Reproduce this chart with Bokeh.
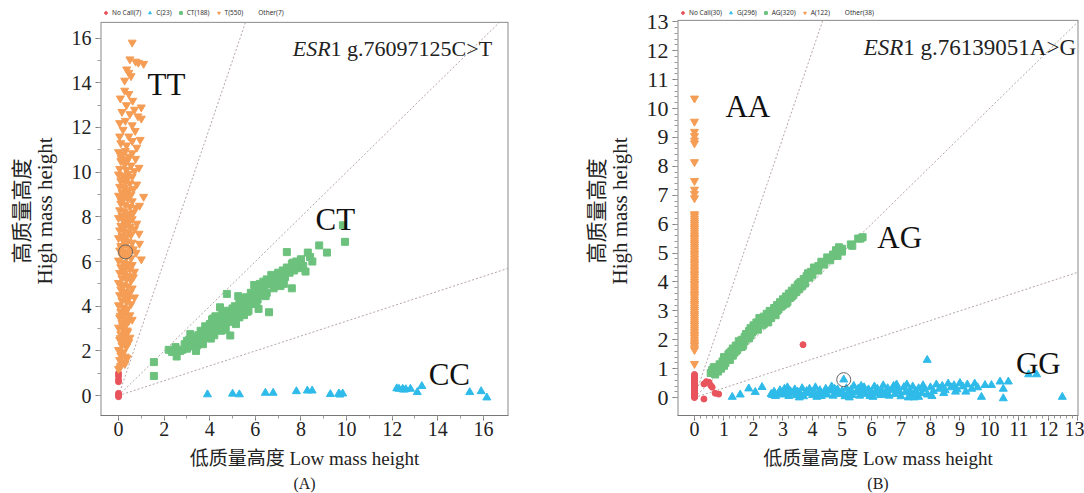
import math
from bokeh.plotting import figure
from bokeh.layouts import row
from bokeh.models import Label, Legend, LegendItem, FixedTicker, Range1d, Title
from bokeh.embed import file_html
from bokeh.resources import INLINE

SERIF = "Liberation Serif, Noto Sans CJK SC"

# ---------------- Panel A : ESR1 g.76097125C>T ----------------
A_legend = ["No Call(7)", "C(23)", "CT(188)", "T(550)", "Other(7)"]
A_xticks = [0, 2, 4, 6, 8, 10, 12, 14, 16]
A_yticks = [0, 2, 4, 6, 8, 10, 12, 14, 16]

A_nocall_x = [0.0, 0.0, 0.0, 0.0, 0.0, 0.0, 0.0]
A_nocall_y = [1.0, 0.88, 0.72, 0.62, 0.1, 0.02, -0.05]

A_C_x = [3.9, 5.0, 5.3, 6.44, 6.78, 7.8, 8.28, 8.49, 9.29, 9.66, 9.83, 9.7,
         12.2, 12.3, 12.46, 12.5, 12.6, 12.8, 13.1, 13.3, 15.4, 15.9, 16.15]
A_C_y = [0.05, 0.08, 0.05, 0.12, 0.12, 0.19, 0.22, 0.22, 0.06, 0.09, 0.09, 0.04,
         0.32, 0.3, 0.3, 0.26, 0.28, 0.3, 0.15, 0.42, 0.15, 0.19, -0.09]

A_CT_x = [1.55, 1.55, 2.5, 2.55, 2.7, 2.9, 3.0, 3.1, 3.2, 3.3, 3.3, 3.4, 3.5, 3.5, 3.6, 3.6,
          3.7, 3.8, 3.8, 3.9, 3.9, 4.0, 4.0, 4.1, 4.1, 4.2, 4.2, 4.3, 4.3, 4.4, 4.4, 4.5,
          4.5, 4.6, 4.6, 4.7, 4.75, 4.8, 4.8, 4.9, 4.9, 5.0, 5.0, 5.1, 5.1, 5.2, 5.3, 5.3,
          5.4, 5.5, 5.5, 5.6, 5.6, 5.7, 5.8, 5.8, 5.9, 6.0, 6.0, 6.1, 6.14, 6.2, 6.2, 6.3,
          6.4, 6.5, 6.5, 6.6, 6.6, 6.7, 6.8, 6.9, 7.0, 7.0, 7.1, 7.2, 7.3, 7.38, 7.38, 7.5,
          7.6, 7.6, 7.7, 7.8, 7.9, 8.0, 8.1, 8.3, 8.4, 8.5, 8.8, 9.14, 9.84, 9.93, 3.0, 3.45,
          3.75, 4.05, 4.25, 4.55, 4.65, 5.15, 5.45, 5.75, 6.05, 6.35, 6.75, 7.15, 2.2, 2.35,
          3.15, 3.65, 4.15, 4.45, 4.85, 5.25, 5.65, 5.95, 6.45, 6.85, 7.25, 7.65, 8.2, 2.8]
A_CT_y = [1.5, 0.88, 2.17, 1.75, 2.0, 2.3, 2.1, 2.5, 2.2, 2.6, 2.35, 2.0, 2.7, 2.4, 2.9, 2.55,
          2.3, 2.8, 3.1, 2.6, 2.95, 3.2, 2.8, 3.0, 3.4, 2.7, 3.15, 3.3, 2.95, 3.5, 3.1, 3.25,
          2.9, 3.6, 3.3, 3.0, 4.55, 3.5, 3.8, 2.69, 3.3, 3.65, 3.9, 3.4, 4.0, 3.7, 4.2, 3.5,
          3.9, 4.1, 3.6, 4.4, 4.0, 3.8, 4.3, 4.6, 4.1, 4.5, 4.8, 4.3, 3.88, 4.7, 5.0, 4.5,
          4.9, 5.2, 4.6, 3.73, 5.0, 5.4, 4.8, 5.1, 5.5, 5.2, 4.9, 5.6, 5.3, 5.73, 6.42, 5.5,
          4.8, 5.9, 5.6, 6.0, 5.7, 6.1, 5.8, 6.4, 6.2, 6.0, 6.72, 6.4, 7.62, 6.88, 2.45, 2.25,
          2.65, 2.55, 3.55, 3.75, 2.95, 3.2, 4.35, 4.2, 4.15, 5.1, 5.05, 5.45, 2.05, 1.95,
          2.75, 2.45, 3.45, 3.95, 3.35, 4.45, 3.75, 4.95, 4.45, 5.35, 5.0, 5.95, 5.55, 2.05]

A_T_x = [0.6, 0.5, 0.87, 1.1, 0.75, 0.45, 0.36, 0.27, 0.55,
         0.27, 0.08, 0.45, 0.62, 0.35, 1.0,
         0.15, 0.5, 0.7, 1.0, 0.3, 0.6, 0.05, 0.85,
         0.73, 0.2, 0.45, 0.95, 0.1, 0.6, 0.35, 0.8, 0.05,
         0.0, 0.15, 0.3, 0.45, 0.6, 0.75, 0.1, 0.25, 0.4, 0.55, 0.9, 0.05, 0.35, 0.7,
         0.0, 0.2, 0.4, 0.6, 0.1, 0.3, 0.5, 0.8, 0.05, 0.25, 0.45, 0.65, 1.1, 0.15, 0.35, 0.55,
         0.0, 0.2, 0.4, 0.6, 0.92, 0.1, 0.3, 0.5, 0.75, 0.05, 0.25, 0.45, 0.65, 0.15, 0.35, 0.55,
         0.0, 0.2, 0.4, 0.6, 0.8, 0.1, 0.3, 0.5, 0.7, 0.05, 0.25, 0.45, 0.15, 0.35, 0.55, 0.9, 0.0,
         0.2, 0.4, 0.92, 0.6, 0.1, 0.3, 0.5, 0.77, 1.0, 0.05, 0.25, 0.45, 0.65, 0.15, 0.35, 0.55, 0.0,
         0.2, 0.4, 0.6, 0.1, 0.3, 0.5, 0.7, 0.05, 0.25, 0.45, 0.15, 0.35, 0.55, 0.0, 0.65,
         0.2, 0.4, 0.6, 0.1, 0.3, 0.5, 0.05, 0.25, 0.45, 0.15, 0.35, 0.55, 0.0, 0.7,
         0.2, 0.4, 0.1, 0.3, 0.5, 0.05, 0.25, 0.45, 0.15, 0.35, 0.0, 0.6,
         0.2, 0.4, 0.1, 0.3, 0.05, 0.25, 0.45, 0.15, 0.35, 0.0, 0.5,
         0.2, 0.1, 0.3, 0.05, 0.2, 0.1, 0.0,
         0.12, 0.32, 0.22, 0.42, 0.12, 0.32, 0.22, 0.42, 0.12, 0.32, 0.22, 0.42,
         0.18, 0.38, 0.28, 0.08, 0.18, 0.38, 0.28, 0.08, 0.18, 0.38, 0.28, 0.08]
A_T_y = [15.8, 15.05, 14.9, 14.85, 14.95, 14.45, 14.6, 14.1, 14.3,
         13.65, 13.3, 13.5, 13.2, 13.0, 12.9,
         12.7, 12.6, 12.8, 12.4, 12.3, 12.1, 12.2, 12.5,
         11.85, 11.9, 11.6, 11.45, 11.3, 11.4, 11.2, 11.1, 11.6,
         10.9, 10.8, 10.95, 10.7, 10.85, 10.6, 10.5, 10.4, 10.55, 10.3, 10.2, 10.15, 10.1, 10.05,
         9.9, 9.85, 9.75, 9.8, 9.6, 9.55, 9.5, 9.45, 9.35, 9.3, 9.2, 9.25, 8.9, 9.1, 9.05, 9.0,
         8.95, 8.8, 8.85, 8.7, 8.5, 8.6, 8.55, 8.45, 8.4, 8.3, 8.25, 8.15, 8.2, 8.05, 8.0, 8.1,
         7.95, 7.85, 7.8, 7.9, 7.7, 7.6, 7.65, 7.55, 7.45, 7.4, 7.35, 7.3, 7.15, 7.1, 7.2, 7.25, 7.05,
         6.95, 6.9, 6.8, 6.85, 6.7, 6.75, 6.6, 6.4, 6.1, 6.5, 6.45, 6.35, 6.55, 6.25, 6.2, 6.15, 6.05,
         5.95, 5.9, 5.85, 5.75, 5.7, 5.65, 5.55, 5.5, 5.45, 5.35, 5.25, 5.2, 5.15, 5.05, 5.3,
         4.95, 4.9, 4.8, 4.75, 4.65, 4.6, 4.5, 4.45, 4.35, 4.25, 4.2, 4.1, 4.05, 4.4,
         3.95, 3.9, 3.75, 3.7, 3.6, 3.5, 3.45, 3.35, 3.25, 3.2, 3.05, 3.4,
         2.95, 2.85, 2.75, 2.7, 2.5, 2.45, 2.4, 2.25, 2.2, 2.05, 2.6,
         1.95, 1.8, 1.75, 1.6, 1.5, 1.35, 1.2,
         10.62, 10.42, 9.68, 9.92, 8.72, 8.92, 7.48, 7.72, 6.62, 6.28, 5.58, 5.82,
         4.88, 4.55, 3.82, 3.58, 3.12, 2.92, 2.32, 2.58, 1.88, 1.68, 1.42, 1.28]

A_sel_x = [0.31]
A_sel_y = [6.43]

# ---------------- Panel B : ESR1 g.76139051A>G ----------------
B_legend = ["No Call(30)", "G(296)", "AG(320)", "A(122)", "Other(38)"]
B_xticks = [0, 1, 2, 3, 4, 5, 6, 7, 8, 9, 10, 11, 12, 13]
B_yticks = [0, 1, 2, 3, 4, 5, 6, 7, 8, 9, 10, 11, 12, 13]

B_nocall_x = [0.0, 0.0, 0.0, 0.0, 0.0, 0.0, 0.0, 0.0, 0.0, 0.0, 0.0, 0.0, 0.0, 0.0, 0.0,
              0.0, 0.0, 0.0, 0.0, 0.0, 0.0, 0.32, 0.4, 0.49, 0.55, 0.6, 0.32, 0.82, 0.7, 3.68]
B_nocall_y = [0.0, 0.05, 0.1, 0.15, 0.2, 0.25, 0.3, 0.35, 0.4, 0.45, 0.5, 0.55, 0.6, 0.65, 0.7,
              0.75, 0.8, 0.02, 0.12, 0.33, 0.48, 0.47, 0.55, 0.53, 0.42, 0.36, -0.05, 0.12, 0.15, 1.83]

B_G_x = [1.28, 1.84, 2.06, 2.29, 2.6, 2.7, 2.75, 2.85, 2.9, 3.0, 3.05, 3.1, 3.2, 3.25, 3.3, 3.4,
         3.45, 3.5, 3.6, 3.65, 3.7, 3.8, 3.85, 3.9, 4.0, 4.05, 4.1, 4.2, 4.25, 4.3, 4.4, 4.45,
         4.5, 4.6, 4.65, 4.7, 4.8, 4.85, 4.95, 5.06, 5.0, 5.1, 5.15, 5.2, 5.3, 5.35, 5.4, 5.5,
         5.55, 5.6, 5.7, 5.75, 5.8, 5.9, 5.95, 6.0, 6.1, 6.15, 6.2, 6.3, 6.35, 6.4, 6.5, 6.55,
         6.6, 6.7, 6.75, 6.8, 6.9, 6.95, 7.0, 7.1, 7.15, 7.2, 7.3, 7.35, 7.4, 7.5, 7.55, 7.6,
         7.7, 7.75, 7.89, 7.8, 7.9, 8.0, 8.1, 8.2, 8.3, 8.4, 8.5, 8.6, 8.7, 8.8, 8.9, 9.0,
         9.1, 9.25, 9.4, 9.5, 9.73, 9.85, 10.07, 10.36, 10.47, 10.47, 10.64, 11.33, 11.6, 12.47,
         7.45, 7.6, 2.65, 3.15, 3.55, 4.15, 4.75, 5.25, 5.65, 6.05, 6.45, 6.85, 7.25, 8.05,
         8.45, 8.85, 9.2, 9.6, 1.55]
B_G_y = [0.02, 0.31, 0.19, 0.36, 0.12, 0.2, 0.05, 0.15, 0.25, 0.1, 0.3, 0.18, 0.05, 0.22, 0.14, 0.28,
         0.08, 0.2, 0.12, 0.32, 0.04, 0.22, 0.15, 0.3, 0.08, 0.2, 0.35, 0.12, 0.25, 0.05, 0.18, 0.3,
         0.1, 0.24, 0.38, 0.06, 0.16, 0.28, 0.12, 0.62, 0.22, 0.04, 0.32, 0.15, 0.26, 0.08, 0.4, 0.18,
         0.3, 0.06, 0.22, 0.35, 0.12, 0.28, 0.05, 0.2, 0.38, 0.14, 0.3, 0.08, 0.24, 0.42, 0.16, 0.32,
         0.06, 0.26, 0.4, 0.12, 0.3, 0.2, 0.04, 0.36, 0.18, 0.45, 0.25, 0.1, 0.38, 0.22, 0.05, 0.32,
         0.15, 0.42, 1.3, 0.28, 0.1, 0.35, 0.22, 0.45, 0.3, 0.4, 0.25, 0.48, 0.35, 0.42, 0.28, 0.5,
         0.38, 0.45, 0.3, 0.48, 0.02, 0.43, 0.43, 0.55, 0.3, -0.03, 0.55, 0.8, 0.8, 0.02,
         0.0, 0.02, 0.08, 0.35, 0.0, 0.02, 0.3, 0.0, 0.4, 0.02, 0.1, 0.45, 0.0, 0.05,
         0.15, 0.2, 0.2, 0.35, 0.1]

B_AG_x = [0.55, 0.6, 0.7, 0.75, 0.8, 0.85, 0.9, 0.95, 1.0, 1.0, 1.05, 1.1, 1.15, 1.2, 1.25, 1.3,
          1.3, 1.35, 1.4, 1.45, 1.5, 1.5, 1.55, 1.6, 1.65, 1.7, 1.7, 1.75, 1.8, 1.85, 1.9, 1.9,
          1.95, 2.0, 2.0, 2.05, 2.1, 2.15, 2.2, 2.2, 2.25, 2.3, 2.35, 2.4, 2.45, 2.5, 2.5, 2.55,
          2.6, 2.65, 2.7, 2.75, 2.8, 2.85, 2.9, 2.95, 3.0, 3.0, 3.05, 3.1, 3.15, 3.2, 3.25, 3.3,
          3.35, 3.4, 3.45, 3.5, 3.55, 3.6, 3.65, 3.7, 3.75, 3.8, 3.85, 3.9, 4.05, 3.95, 4.0, 4.1,
          4.2, 4.3, 4.4, 4.5, 4.6, 4.7, 4.8, 4.85, 4.9, 5.0, 5.0, 5.3, 5.35, 5.55, 5.63, 5.7,
          1.2, 1.6, 2.1, 2.6, 3.1, 3.3, 2.35, 1.85, 1.4, 2.8, 3.55, 4.2, 0.65, 1.05, 2.45]
B_AG_y = [0.85, 0.95, 0.8, 1.05, 0.9, 1.15, 1.0, 1.25, 1.1, 1.4, 1.2, 1.35, 1.5, 1.3, 1.6, 1.45,
          1.7, 1.55, 1.8, 1.65, 1.75, 1.95, 1.85, 2.0, 1.8, 2.1, 1.95, 2.2, 2.05, 2.3, 2.15, 2.4,
          2.25, 2.5, 2.3, 2.45, 2.6, 2.35, 2.55, 2.75, 2.65, 2.5, 2.8, 2.7, 2.9, 2.6, 2.85, 3.0,
          2.75, 2.95, 3.1, 2.85, 3.2, 3.05, 3.3, 3.15, 3.4, 3.2, 3.35, 3.5, 3.3, 3.6, 3.45, 3.7,
          3.55, 3.8, 3.65, 3.9, 3.75, 4.0, 3.85, 4.1, 3.95, 4.2, 4.3, 4.15, 4.5, 4.35, 4.25, 4.4,
          4.55, 4.7, 4.6, 4.85, 4.75, 4.95, 5.1, 4.9, 5.2, 5.05, 5.15, 5.3, 5.25, 5.5, 5.5, 5.55,
          1.55, 1.75, 2.4, 2.9, 3.25, 3.5, 2.55, 2.05, 1.6, 3.0, 3.95, 4.4, 1.05, 1.35, 2.75]

B_A_y = [10.35, 9.55, 9.2, 9.05, 8.9, 8.8, 8.15, 7.5, 7.2, 7.05, 6.9,
         6.35, 6.28, 6.2, 6.12, 6.05, 5.98, 5.9, 5.85, 5.78, 5.7, 5.62, 5.55, 5.5, 5.42, 5.35,
         5.3, 5.22, 5.15, 5.08, 5.0, 4.95, 4.88, 4.8, 4.72, 4.65, 4.6, 4.52, 4.45, 4.38, 4.3,
         4.25, 4.18, 4.1, 4.02, 3.95, 3.9, 3.82, 3.75, 3.68, 3.6, 3.55, 3.48, 3.4, 3.32, 3.25,
         3.2, 3.12, 3.05, 2.98, 2.9, 2.85, 2.78, 2.7, 2.62, 2.55, 2.5, 2.42, 2.35, 2.28, 2.2,
         2.15, 2.08, 2.0, 1.92, 1.85, 1.8, 1.72, 1.65, 1.17]
B_A_x = [0.0] * len(B_A_y)

B_sel_x = [5.06]
B_sel_y = [0.62]

GUIDE_SLOPES = [3.0, 1.0, 1.0 / 3.0]

RED = "#e8535c"
BLUE = "#2fbbe9"
GREEN = "#6cc27d"
ORANGE = "#f59d55"
GUIDE = "#b5a4a4"
BORDER = "#8a8a8a"

FIG_H = 493


def make_panel(width, xr, y_start, y_box_top, y_canvas_top, borders, xticks, yticks,
               xminor_step, yminor_step, ytick_size,
               legend_labels, nocall, homo_low, het, homo_high, sel,
               title_italic, title_rest, title_pos, title_size, geno, caption):
    p = figure(width=width, height=FIG_H, output_backend="svg", toolbar_location=None,
               x_range=Range1d(*xr), y_range=Range1d(y_start, y_canvas_top),
               min_border_left=borders[0], min_border_right=borders[1],
               min_border_top=borders[2], min_border_bottom=borders[3])
    p.xgrid.visible = False
    p.ygrid.visible = False
    p.outline_line_color = None
    p.background_fill_color = "#ffffff"
    p.border_fill_color = "#ffffff"

    # box border (top / left / right); the bottom is the x axis line
    x0, x1 = xr
    p.segment(x0=[x0, x0, x1], y0=[y_box_top, y_start, y_start],
              x1=[x1, x0, x1], y1=[y_box_top, y_box_top, y_box_top],
              line_color=BORDER, line_width=[1, 2, 2])

    # guide lines from the origin, stopping at the box edge
    gx = [x1 if s * x1 <= y_box_top else y_box_top / s for s in GUIDE_SLOPES]
    gy = [s * xx for s, xx in zip(GUIDE_SLOPES, gx)]
    p.segment(x0=[0, 0, 0], y0=[0, 0, 0], x1=gx, y1=gy,
              line_color=GUIDE, line_dash="2 2", line_width=1)

    r_nc = p.scatter(nocall[0], nocall[1], marker="circle", size=6,
                     fill_color=RED, line_color=RED)
    r_lo = p.scatter(homo_low[0], homo_low[1], marker="triangle", size=8,
                     fill_color=BLUE, line_color=BLUE)
    r_het = p.scatter(het[0], het[1], marker="square", size=7,
                      fill_color=GREEN, line_color=GREEN)
    r_hi = p.scatter(homo_high[0], homo_high[1], marker="inverted_triangle", size=8,
                     fill_color=ORANGE, line_color=ORANGE)
    r_other = p.scatter([], [], marker="dot", size=6, line_color="#999999",
                        fill_color="#999999")
    p.scatter(sel[0], sel[1], marker="circle", size=14, fill_color=None,
              line_color="#666666", line_width=1)

    items = [LegendItem(label=lab, renderers=[r])
             for lab, r in zip(legend_labels, [r_nc, r_lo, r_het, r_hi, r_other])]
    leg = Legend(items=items, orientation="horizontal", location="top_left",
                 label_text_font_size="6.5px", label_text_font="Noto Sans",
                 label_text_color="#333333", label_height=8, label_width=10,
                 label_standoff=3, glyph_height=7, glyph_width=7, spacing=5,
                 padding=1, margin=2, border_line_color=None, background_fill_alpha=0)
    p.add_layout(leg)

    xminor = [i * xminor_step for i in range(int(round(xticks[-1] / xminor_step)) + 1)]
    yminor = [i * yminor_step for i in range(int(round(yticks[-1] / yminor_step)) + 1)]
    p.xaxis.ticker = FixedTicker(ticks=xticks, minor_ticks=xminor)
    p.yaxis.ticker = FixedTicker(ticks=yticks, minor_ticks=yminor)
    for ax in (p.xaxis[0], p.yaxis[0]):
        ax.axis_line_color = "#777777"
        ax.major_tick_line_color = "#777777"
        ax.minor_tick_line_color = "#999999"
        ax.major_tick_out = 5
        ax.major_tick_in = 0
        ax.minor_tick_out = 3
        ax.minor_tick_in = 0
        ax.major_label_text_font = SERIF
        ax.major_label_text_color = "#222222"
        ax.axis_label_text_font = SERIF
        ax.axis_label_text_font_style = "normal"
        ax.axis_label_text_color = "#222222"
    p.yaxis.axis_line_color = None
    p.xaxis.axis_label_text_font_size = "19px"
    p.yaxis.axis_label_text_font_size = "21px"
    p.yaxis.axis_label_text_line_height = 0.95
    p.xaxis.major_label_text_font_size = "20px"
    p.yaxis.major_label_text_font_size = ytick_size
    p.xaxis.axis_label = "低质量高度 Low mass height"
    p.yaxis.axis_label = "高质量高度\nHigh mass height"
    p.xaxis.axis_label_standoff = 9
    p.yaxis.axis_label_standoff = 12
    p.xaxis.major_label_standoff = 1
    p.yaxis.major_label_standoff = 4

    p.add_layout(Title(text=caption, align="center", text_font=SERIF,
                       text_font_size="16px", text_font_style="normal",
                       text_color="#222222", standoff=3, offset=0), "below")

    p.add_layout(Label(x=title_pos[0], y=title_pos[1], text=title_italic,
                       text_align="right", text_baseline="alphabetic",
                       text_font=SERIF, text_font_style="italic",
                       text_font_size=title_size, text_color="#222222"))
    p.add_layout(Label(x=title_pos[0], y=title_pos[1], text=title_rest,
                       text_align="left", text_baseline="alphabetic",
                       text_font=SERIF, text_font_size=title_size, text_color="#222222"))
    for txt, gx_, gy_ in geno:
        p.add_layout(Label(x=gx_, y=gy_, text=txt, text_align="left",
                           text_baseline="alphabetic", text_font=SERIF,
                           text_font_size="31px", text_color="#111111"))
    return p


pA = make_panel(565, (-0.79, 17.1), -0.89, 16.7, 17.41, (100, 57, 6, 76),
                A_xticks, A_yticks, 1.0, 1.0, "20px",
                A_legend, (A_nocall_x, A_nocall_y), (A_C_x, A_C_y), (A_CT_x, A_CT_y),
                (A_T_x, A_T_y), (A_sel_x, A_sel_y),
                "ESR", "1 g.76097125C>T", (9.3, 15.55), "22px",
                [("TT", 1.27, 13.9), ("CT", 8.64, 7.89), ("CC", 13.6, 0.94)], "(A)")

pB = make_panel(519, (-0.576, 13.02), -0.62, 13.05, 13.53, (112, 6, 6, 78),
                B_xticks, B_yticks, 0.2, 0.2, "22px",
                B_legend, (B_nocall_x, B_nocall_y), (B_G_x, B_G_y), (B_AG_x, B_AG_y),
                (B_A_x, B_A_y), (B_sel_x, B_sel_y),
                "ESR", "1 g.76139051A>G", (7.08, 12.11), "23px",
                [("AA", 1.05, 10.07), ("AG", 6.2, 5.54), ("GG", 10.9, 1.18)], "(B)")

layout = row(pA, pB)
open("out.html", "w").write(file_html(layout, INLINE))
